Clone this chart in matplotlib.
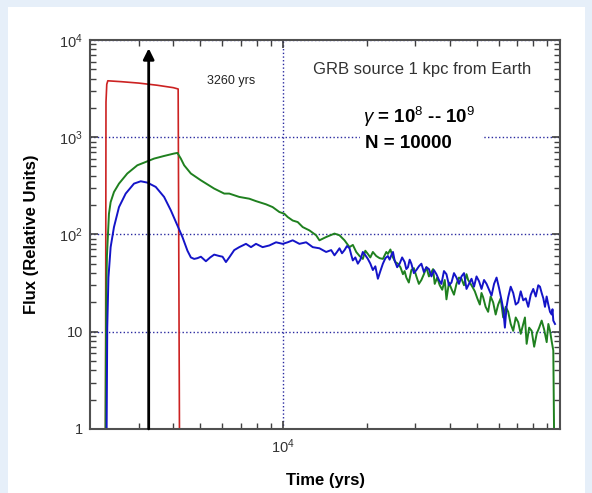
import matplotlib
matplotlib.use("Agg")
import matplotlib.pyplot as plt
from matplotlib.patches import Rectangle

plt.rcParams['font.family'] = ['Liberation Sans', 'DejaVu Sans']
plt.rcParams['mathtext.fontset'] = 'custom'
plt.rcParams['mathtext.rm'] = 'Liberation Sans'
plt.rcParams['mathtext.it'] = 'Liberation Sans:italic'
plt.rcParams['mathtext.bf'] = 'Liberation Sans:bold'

# red: flux from the source directly (yrs, relative units)
red_t = [2275, 2285, 2300, 2320, 2600, 3000, 3500, 4000, 4166, 4215]
red_f = [0.5, 2300, 3500, 3800, 3720, 3600, 3420, 3230, 3130, 0.5]

# blue curve
blue_t = [2294, 2309, 2332, 2375, 2442, 2546, 2692, 2885, 3051, 3224,
          3457, 3706, 3919, 4140, 4317, 4501, 4631, 4760, 4893, 5034,
          5248, 5439, 5623, 5863, 6027, 6200, 6373, 6644, 6927, 7326,
          7638, 7963, 8414, 8897, 9409, 9942, 10365, 10807, 11429, 12086,
          12767, 13502, 14278, 14886,
          15302, 15620, 15953, 16290, 16634, 16980, 17342, 17580, 17826, 18200,
          18585, 18980, 19375, 19790, 20201, 20630, 21062, 21500, 21960, 22420,
          22895, 23380, 23870, 24210, 24557, 24900, 25243, 25780, 26319, 26870,
          27440, 27820, 28205, 28610, 29017, 29630, 30253, 30890, 31541, 32210,
          32886, 33580, 34287, 35010, 35746, 36500, 37269, 38060, 38856, 39680,
          40512, 41370, 42237, 43130, 44037, 44970, 45912, 46880, 47866, 48880,
          49906, 50960, 52031, 53130, 54248, 55400, 56559, 57750, 58966, 60210,
          61480, 62330, 63196, 64070, 64961, 66330, 67729, 69160, 70612, 72100,
          73622, 75180, 76756, 78380, 80027, 81720, 83434, 84620, 85832, 87020,
          88229, 89450, 90691, 91990, 93299, 93920, 94551, 95912]
blue_f = [0.5, 11, 36, 74, 119, 191, 263, 333, 352, 341,
          308, 243, 177, 124, 94, 68, 58, 56, 57, 59,
          53, 58, 62, 60, 59, 52, 58, 69, 74, 80,
          74, 80, 74, 77, 83, 80, 83, 87, 80, 83,
          74, 72, 66, 69,
          61, 66, 72, 64, 69, 76, 72, 62, 54, 58,
          50, 55, 66, 61, 56, 50, 43, 47, 35, 42,
          50, 57, 60, 55, 61, 66, 54, 46, 50, 58,
          52, 44, 46, 55, 50, 40, 43, 47, 50, 41,
          46, 44, 37, 43, 39, 34, 31, 42, 39, 30,
          32, 40, 36, 31, 37, 40, 27.5, 31, 35, 29,
          37, 33, 27.5, 34, 31, 27, 23.5, 31, 36, 28,
          21, 17, 11, 18, 22.6, 29, 25, 19, 20, 26,
          21, 22, 18, 24, 27.5, 23, 30, 29, 25, 22,
          18, 23, 19, 16, 15, 17, 13, 12]

# green curve
green_t = [2274, 2288, 2303, 2342, 2375, 2442, 2546, 2728, 2966, 3181,
           3408, 3706, 4028, 4140, 4260, 4379, 4631, 5034, 5623, 6113,
           6373, 6927, 7530, 7963, 8656, 9146, 9672, 10084, 10365, 10807,
           11268, 11748, 12421, 13134, 13502, 14278,
           15302, 15953, 16634, 17342, 17830, 18339, 18850, 19375, 19780, 20201,
           20620, 21062, 21660, 22274, 22895, 23553, 23870, 24370, 24888, 25400,
           25948, 26490, 27053, 27430, 27832, 28410, 29017, 29630, 30253, 30890,
           31541, 32210, 32886, 33580, 34287, 34760, 35242, 35980, 36744, 37520,
           38311, 38856, 39680, 40512, 41370, 42237, 43130, 44037, 44970, 45912,
           46550, 47192, 48190, 49203, 50240, 51297, 52010, 52728, 53840, 54975,
           56130, 57318, 58530, 59757, 61020, 62305, 63620, 64961, 66330, 67729,
           69160, 70612, 72100, 73622, 74670, 75740, 77330, 78966, 80630, 82326,
           84060, 85832, 87640, 89488, 90730, 91999, 93260, 94551, 95354]
green_f = [0.5, 20, 60, 163, 215, 273, 333, 423, 514, 556,
           602, 641, 679, 689, 602, 514, 423, 360, 296, 263,
           263, 243, 233, 220, 204, 191, 170, 163, 151, 139,
           134, 119, 110, 98, 87, 94,
           102, 98, 87, 74, 78, 66, 60, 56, 68, 63,
           58, 66, 60, 57, 56, 66, 63, 70, 58, 52,
           50, 46, 39, 42, 36, 32, 43, 45, 37, 31,
           34, 39, 46, 37, 41, 44, 31, 36, 30, 27,
           34, 21.5, 32, 27.5, 24, 31, 36, 35, 30, 39,
           34, 32, 29, 26, 22, 19, 25, 22.6, 18, 16,
           23, 20, 15, 19, 22, 14, 18, 16, 12, 10.2,
           14, 12.5, 9.5, 12, 14, 7.5, 11, 10.2, 7, 9.5,
           11, 13, 10.5, 7.8, 12, 10.2, 8, 6.4, 0.5]

arrow_t = 3260

y_ticks = [1, 10, 100, 1000, 10000]
y_labels = ["1", "10", "10$^2$", "10$^3$", "10$^4$"]
x_ticks = [1e4]
x_labels = ["10$^4$"]

fig = plt.figure(figsize=(5.92, 4.93), dpi=100, facecolor="#e6eff9")
fig.patches.append(Rectangle((8 / 592, 0), 577 / 592, 1 - 7 / 493,
                             transform=fig.transFigure, facecolor="white",
                             edgecolor="none", zorder=-10))
ax = fig.add_axes([0.152, 0.130, 0.794, 0.789])
ax.set_xscale("log")
ax.set_yscale("log")
ax.set_xlim(2000, 1e5)
ax.set_ylim(1, 1e4)

ax.plot(red_t, red_f, color="#cc2222", lw=1.2)
ax.plot(green_t, green_f, color="#1f801f", lw=1.4)
ax.plot(blue_t, blue_f, color="#1414c8", lw=1.4)

ax.annotate("", xy=(arrow_t, 8200), xytext=(arrow_t, 1.0),
            arrowprops=dict(arrowstyle="-|>", color="black", lw=2,
                            mutation_scale=16, shrinkA=0, shrinkB=0))

ax.set_yticks(y_ticks)
ax.set_yticklabels(y_labels)
ax.set_xticks(x_ticks)
ax.set_xticklabels(x_labels)
ax.set_xticks([3000, 4000, 5000, 6000, 7000, 8000, 9000,
               20000, 30000, 40000, 50000, 60000, 70000, 80000, 90000], minor=True)
ax.set_xticklabels([], minor=True)
ax.tick_params(which="both", direction="in", top=True, right=True,
               color="#404040", labelcolor="#333333", labelsize=10.5)
ax.tick_params(which="major", length=6, width=1.2)
ax.tick_params(which="minor", length=4, width=1)
ax.tick_params(axis="x", pad=6)
ax.tick_params(axis="y", pad=5)
for s in ax.spines.values():
    s.set_color("#505050")
    s.set_linewidth(1.5)

ax.grid(True, which="major", linestyle=":", color="#2a2aa0", lw=1)

ax.set_xlabel("Time (yrs)", fontsize=12, fontweight="bold")
ax.set_ylabel("Flux (Relative Units)", fontsize=12, fontweight="bold")
ax.xaxis.set_label_coords(0.5, -0.113)
ax.yaxis.set_label_coords(-0.108, 0.5)

ax.text(0.249, 0.886, "3260 yrs", transform=ax.transAxes, fontsize=9,
        color="#222222")
ax.text(0.706, 0.9126, "GRB source 1 kpc from Earth", transform=ax.transAxes,
        fontsize=12, ha="center", va="baseline", color="#333333")
ax.add_patch(Rectangle((0.5745, 0.704), 0.26, 0.155, transform=ax.transAxes,
                       facecolor="white", edgecolor="none", zorder=2))
ax.text(0.581, 0.7874, r"$\gamma$ = 10$^8$ -- 10$^9$", transform=ax.transAxes,
        fontsize=13.5, fontweight="bold", va="baseline", zorder=3)
ax.text(0.585, 0.7216, "N = 10000", transform=ax.transAxes,
        fontsize=13.5, fontweight="bold", va="baseline", zorder=3)

fig.savefig("out.png", dpi=100, facecolor=fig.get_facecolor())
